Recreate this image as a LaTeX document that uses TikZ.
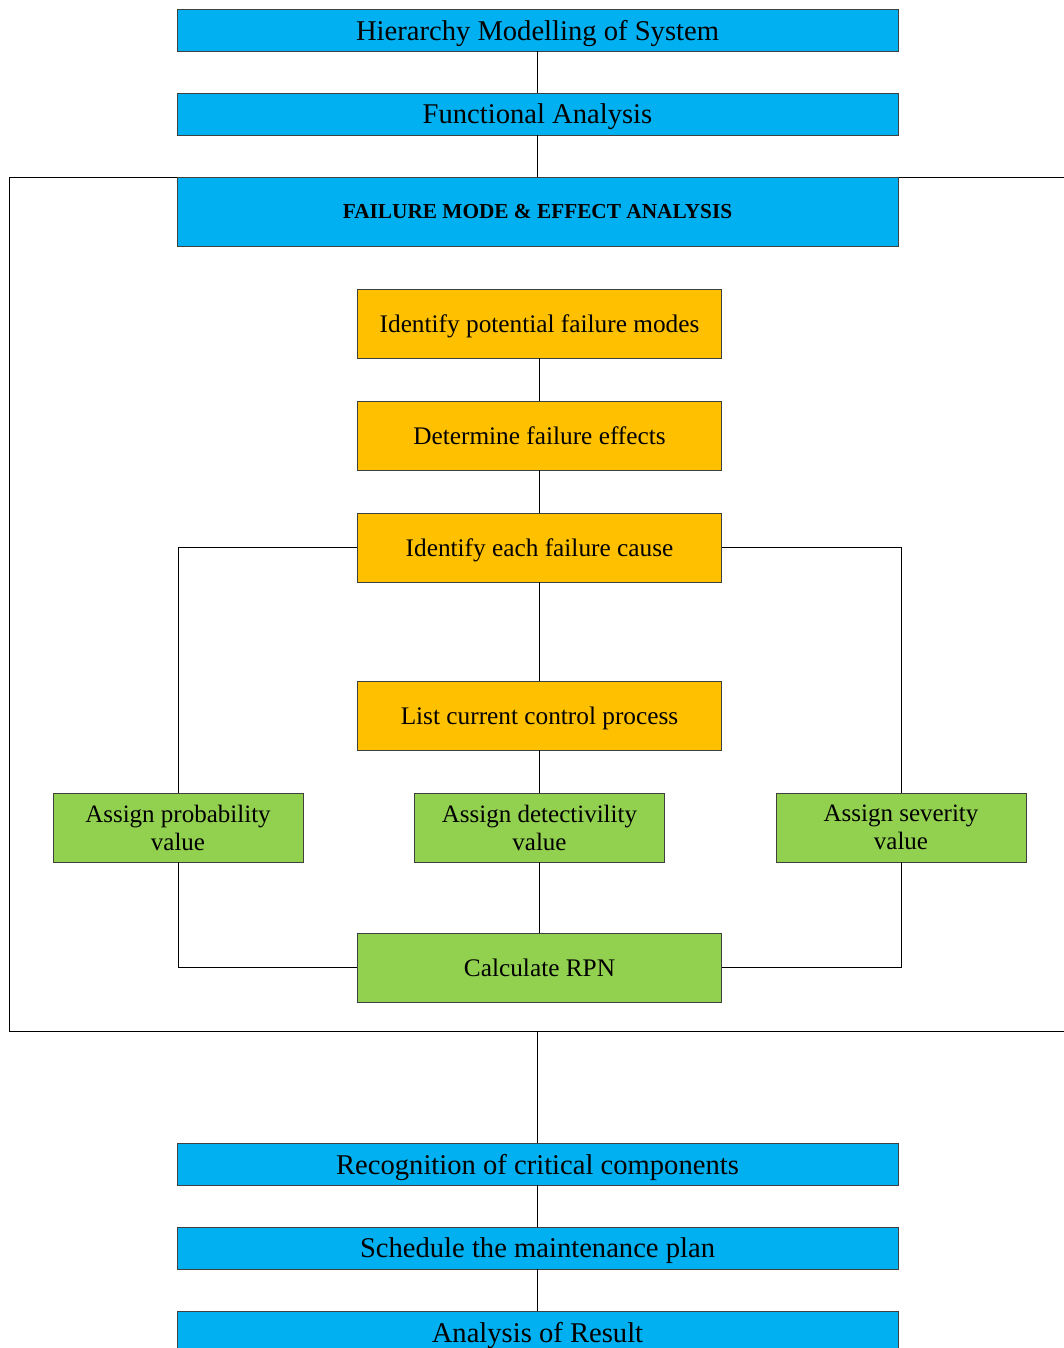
\documentclass[tikz,border=0pt]{standalone}
\usepackage{fontspec}
\setmainfont{Liberation Serif}
\definecolor{skyfill}{HTML}{00B0F0}
\definecolor{amberfill}{HTML}{FFC000}
\definecolor{limefill}{HTML}{92D050}
\begin{document}
\begin{tikzpicture}[x=1pt,y=-1pt,
  boxbase/.style={draw=black!75, line width=0.8pt, inner sep=0pt, align=center},
  oneline/.style={text depth=0pt},
  stage/.style={boxbase, oneline, fill=skyfill, minimum width=721pt, minimum height=42pt,
    font=\fontsize{28.6}{31}\selectfont},
  fmeahead/.style={boxbase, oneline, fill=skyfill, minimum width=721pt, minimum height=69pt,
    font=\fontsize{21.3}{24}\selectfont\bfseries},
  stepbox/.style={boxbase, oneline, fill=amberfill, minimum width=364pt, minimum height=69pt,
    font=\fontsize{25.3}{28}\selectfont},
  scorebox/.style={boxbase, fill=limefill, minimum width=250pt, minimum height=69pt,
    font=\fontsize{25}{28}\selectfont},
  rpnbox/.style={boxbase, oneline, fill=limefill, minimum width=364pt, minimum height=69pt,
    font=\fontsize{25.3}{28}\selectfont},
  link/.style={draw=black, line width=0.8pt}
]
\useasboundingbox (0,0) rectangle (1064,1348);

% outer FMEA frame (open to the right)
\draw[link] (1070,177) -- (9,177) -- (9,1031) -- (1070,1031);
\coordinate (framebot) at (537.5,1031);

% upper stages
\node[stage] (hier) at (537.5,30) {Hierarchy Modelling of System};
\node[stage] (func) at (537.5,114) {Functional Analysis};
\node[fmeahead] (fmea) at (537.5,211.5) {FAILURE MODE \& EFFECT ANALYSIS};

% FMEA steps
\node[stepbox] (modes)   at (539.5,323.5) {Identify potential failure modes};
\node[stepbox] (effects) at (539.5,435.5) {Determine failure effects};
\node[stepbox] (cause)   at (539.5,547.5) {Identify each failure cause};
\node[stepbox] (control) at (539.5,715.5) {List current control process};

\node[scorebox] (prob) at (178,827.5) {Assign probability\\value};
\node[scorebox] (det)  at (539.5,827.5) {Assign detectivility\\value};
\node[scorebox] (sev)  at (901,827.5) {Assign severity\\value};

\node[rpnbox] (rpn) at (539.5,967.5) {Calculate RPN};

% lower stages
\node[stage] (crit)  at (537.5,1164) {Recognition of critical components};
\node[stage] (sched) at (537.5,1248) {Schedule the maintenance plan};
\node[stage] (res)   at (537.5,1332) {Analysis of Result};

% connectors
\draw[link] (hier) -- (func);
\draw[link] (func) -- (fmea);
\draw[link] (modes) -- (effects);
\draw[link] (effects) -- (cause);
\draw[link] (cause) -- (control);
\draw[link] (control) -- (det);
\draw[link] (det) -- (rpn);
\draw[link] (cause.west) -| (prob.north);
\draw[link] (cause.east) -| (sev.north);
\draw[link] (prob.south) |- (rpn.west);
\draw[link] (sev.south) |- (rpn.east);
\draw[link] (framebot) -- (crit);
\draw[link] (crit) -- (sched);
\draw[link] (sched) -- (res);
\end{tikzpicture}
\end{document}
